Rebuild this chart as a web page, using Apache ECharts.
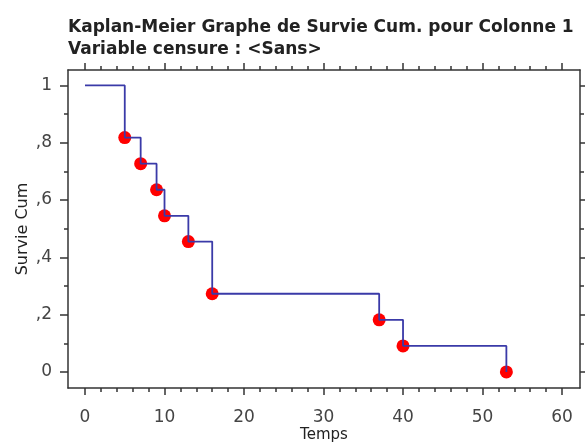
<!DOCTYPE html>
<html>
<head>
<meta charset="utf-8">
<script src="https://cdn.jsdelivr.net/npm/echarts@6/dist/echarts.min.js"></script>
<style>
  html, body { margin: 0; padding: 0; background: #fff; }
  #chart { width: 585px; height: 444px; }
</style>
</head>
<body>
<div id="chart"></div>
<script>
// Kaplan-Meier data (time, cumulative survival)
var times = [0, 5, 7, 9, 10, 13, 16, 37, 40, 53];
var survie = [1, 0.818, 0.727, 0.636, 0.545, 0.455, 0.273, 0.182, 0.091, 0];

var xMajor = [0, 10, 20, 30, 40, 50, 60];
var xMinor = [2, 4, 6, 8, 12, 14, 16, 18, 22, 24, 26, 28, 32, 34, 36, 38, 42, 44, 46, 48, 52, 54, 56, 58];
var yMajor = [0, 0.2, 0.4, 0.6, 0.8, 1];
var yLabels = ['0', ',2', ',4', ',6', ',8', '1'];
var yMinor = [0.1, 0.3, 0.5, 0.7, 0.9];

var font = 'DejaVu Sans';
var xMin = -2.14, xMax = 62.26;
var yMin = -0.056, yMax = 1.054;

function initChart() {
    var chart = echarts.init(document.getElementById('chart'));

    var curve = [];
    var events = [];
    for (var i = 0; i < times.length; i++) {
        curve.push([times[i], survie[i]]);
        if (i > 0) events.push([times[i], survie[i]]);
    }

    var lineStyle = { color: '#333', width: 1.5 };

    function xAxis(position, values, len, showLine, showLabel) {
        return {
            type: 'value', position: position, min: xMin, max: xMax,
            splitLine: { show: false },
            axisLine: { show: showLine, onZero: false, lineStyle: lineStyle },
            axisTick: { show: true, customValues: values, length: len, lineStyle: lineStyle },
            axisLabel: {
                show: showLabel, customValues: values, margin: 21,
                fontFamily: font, fontSize: 17, color: '#444'
            },
            name: showLabel ? 'Temps' : '',
            nameLocation: 'middle', nameGap: 40, nameMoveOverlap: false,
            nameTextStyle: { fontFamily: font, fontSize: 15, color: '#222' }
        };
    }

    function yAxis(position, values, len, showLine, showLabel) {
        return {
            type: 'value', position: position, min: yMin, max: yMax,
            splitLine: { show: false },
            axisLine: { show: showLine, onZero: false, lineStyle: lineStyle },
            axisTick: { show: true, customValues: values, length: len, lineStyle: lineStyle },
            axisLabel: {
                show: showLabel, customValues: values, margin: 16,
                fontFamily: font, fontSize: 17, color: '#444',
                formatter: function (v) { return yLabels[yMajor.indexOf(v)]; }
            },
            name: showLabel ? 'Survie Cum' : '',
            nameLocation: 'middle', nameGap: 37, nameRotate: 90, nameMoveOverlap: false,
            nameTextStyle: { fontFamily: font, fontSize: 16, color: '#222' }
        };
    }

    var option = {
        animation: false,
        title: {
            text: 'Kaplan-Meier Graphe de Survie Cum. pour Colonne 1\nVariable censure : <Sans>',
            left: 63, top: 12,
            textStyle: { fontFamily: font, fontSize: 17, fontWeight: 'bold', color: '#222', lineHeight: 22 }
        },
        grid: { left: 68, right: 5, top: 70, bottom: 56, outerBoundsMode: 'none' },
        xAxis: [
            xAxis('bottom', xMajor, 7, true, true),
            xAxis('bottom', xMinor, 4, false, false),
            xAxis('top', xMajor, 7, true, false),
            xAxis('top', xMinor, 4, false, false)
        ],
        yAxis: [
            yAxis('left', yMajor, 8, true, true),
            yAxis('left', yMinor, 4, false, false),
            yAxis('right', yMajor, 5, true, false),
            yAxis('right', yMinor, 4, false, false)
        ],
        series: [
            {
                name: 'Survie', type: 'line', step: 'end', data: curve,
                showSymbol: false, lineStyle: { color: '#3a3aa8', width: 1.8 }
            },
            {
                name: 'Evenements', type: 'scatter', data: events,
                symbolSize: 13, itemStyle: { color: '#ff0000', opacity: 1 }
            }
        ]
    };
    chart.setOption(option);
}

initChart();
</script>
</body>
</html>
